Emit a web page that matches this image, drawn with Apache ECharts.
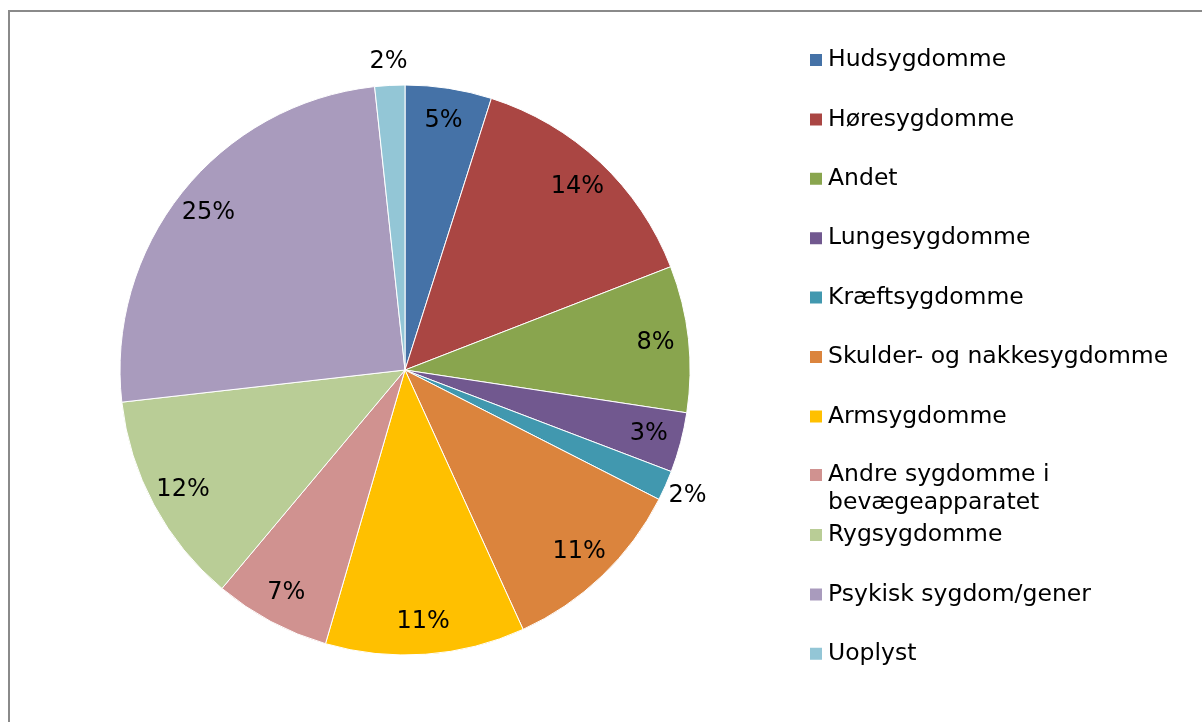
<!DOCTYPE html>
<html>
<head>
<meta charset="utf-8">
<script src="https://cdn.jsdelivr.net/npm/echarts@6/dist/echarts.min.js"></script>
<style>
    html, body { margin: 0; padding: 0; background: #fff; }
    #pieChart { width: 1202px; height: 722px; }
</style>
</head>
<body>
<div id="pieChart"></div>
<script>
// kategorier (rækkefølge med uret fra kl. 12)
var categories = [
    "Hudsygdomme",
    "Høresygdomme",
    "Andet",
    "Lungesygdomme",
    "Kræftsygdomme",
    "Skulder- og nakkesygdomme",
    "Armsygdomme",
    "Andre sygdomme i bevægeapparatet",
    "Rygsygdomme",
    "Psykisk sygdom/gener",
    "Uoplyst"
];
// andele i procent
var shares = [4.9, 14.2, 8.3, 3.4, 1.7, 10.7, 11.3, 6.6, 12.1, 25.1, 1.7];
var colors = ["#4572A7", "#AA4643", "#89A54E", "#71588F", "#4198AF", "#DB843D",
              "#FFC000", "#D09290", "#B9CD96", "#A99BBD", "#93C6D6"];

var fontFamily = "'DejaVu Sans', Verdana, sans-serif";

var chart = echarts.init(document.getElementById("pieChart"));

function labelData(showSmall) {
    return categories.map(function (name, i) {
        return {
            name: name,
            value: shares[i],
            label: { show: showSmall ? shares[i] < 2 : shares[i] >= 2 }
        };
    });
}

var labelRing = {
    type: "pie",
    center: [405, 370],
    startAngle: 90,
    silent: true,
    legendHoverLink: false,
    avoidLabelOverlap: false,
    itemStyle: { color: "rgba(0,0,0,0)", borderWidth: 0 },
    emphasis: { disabled: true },
    labelLine: { show: false },
    label: {
        position: "inside",
        color: "#000",
        fontSize: 24,
        fontFamily: fontFamily,
        formatter: function (p) {
            return Math.round(p.percent) + "%";
        }
    }
};

// legenden deles i tre, så den tolinjede post ikke skubber resten ned
function legendPart(names, top, formatter) {
    return {
        orient: "vertical",
        left: 808,
        top: top,
        padding: 0,
        itemWidth: 14,
        itemHeight: 14,
        itemGap: 31.4,
        icon: "rect",
        data: names,
        formatter: formatter,
        textStyle: {
            color: "#000",
            fontSize: 23.5,
            fontFamily: fontFamily,
            lineHeight: 28
        }
    };
}

var option = {
    animation: false,
    color: colors,
    graphic: [{
        type: "rect",
        shape: { x: 9, y: 11, width: 1400, height: 900 },
        style: { fill: "none", stroke: "#8a8a8a", lineWidth: 2 },
        silent: true
    }],
    legend: [
        legendPart(categories.slice(0, 7), 46),
        legendPart(categories.slice(7, 8), 433, function (name) {
            return "\n" + name.replace(" i ", " i\n");
        }),
        legendPart(categories.slice(8), 521)
    ],
    series: [
        {
            name: "Sygdomme",
            type: "pie",
            center: [405, 370],
            radius: [0, 285],
            startAngle: 90,
            label: { show: false },
            labelLine: { show: false },
            itemStyle: { borderColor: "#fff", borderWidth: 1 },
            emphasis: { scale: false },
            data: categories.map(function (name, i) {
                return { name: name, value: shares[i] };
            })
        },
        Object.assign({}, labelRing, { radius: [213, 285], data: labelData(false) }),
        Object.assign({}, labelRing, { radius: [285, 327], data: labelData(true) })
    ]
};

chart.setOption(option);
</script>
</body>
</html>
